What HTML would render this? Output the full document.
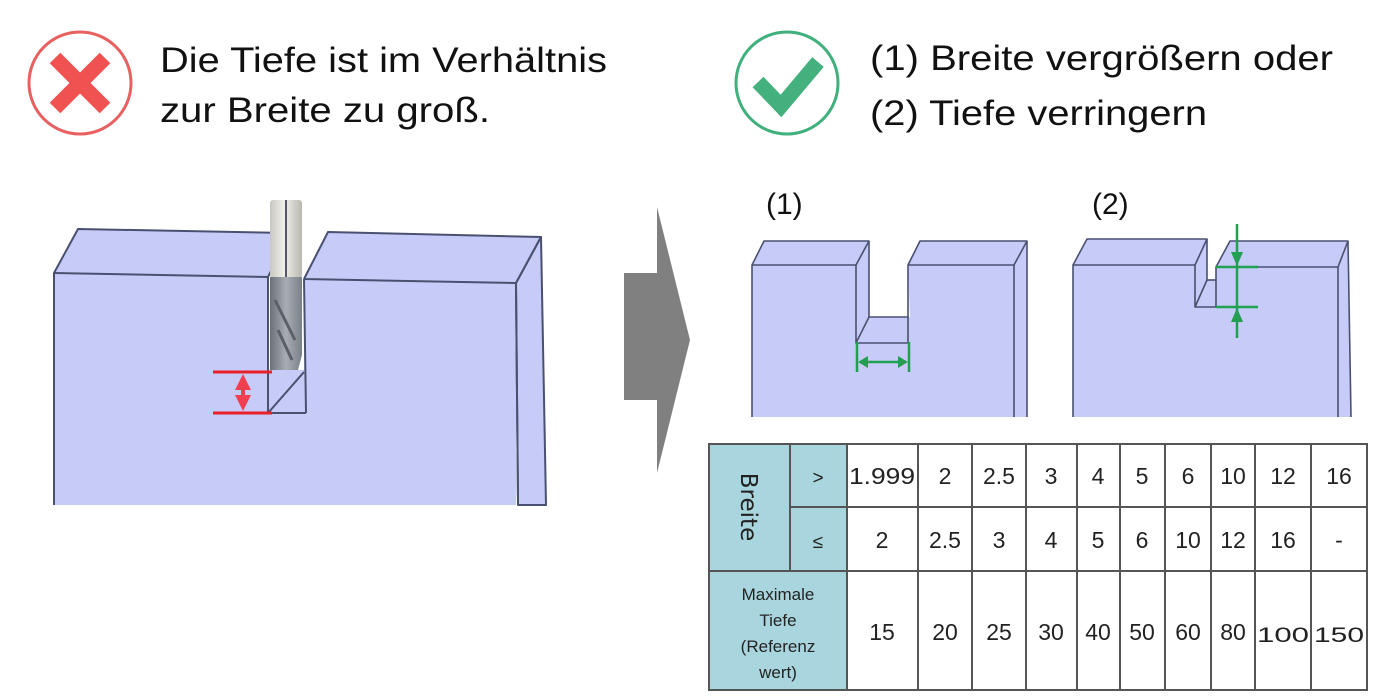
<!DOCTYPE html>
<html><head><meta charset="utf-8"><style>
html,body{margin:0;padding:0;background:#fff;width:1400px;height:700px;overflow:hidden}
svg{display:block}
text{font-family:"Liberation Sans",sans-serif}
.tb{font-family:"DejaVu Sans","Liberation Sans",sans-serif;font-size:23px;fill:#222}
</style></head><body>
<svg width="1400" height="700" viewBox="0 0 1400 700" xmlns="http://www.w3.org/2000/svg">
<defs>
<linearGradient id="sh" x1="0" x2="1"><stop offset="0" stop-color="#c8c8c0"/><stop offset="0.45" stop-color="#f0f0ea"/><stop offset="1" stop-color="#b8b8b0"/></linearGradient>
<linearGradient id="fl" x1="0" x2="1"><stop offset="0" stop-color="#6a7078"/><stop offset="0.5" stop-color="#a8adb3"/><stop offset="1" stop-color="#7a8088"/></linearGradient>
</defs>
<!-- header icons -->
<circle cx="80" cy="83" r="51" fill="none" stroke="#e86060" stroke-width="3"/>
<path d="M55 58 L105 108 M105 58 L55 108" stroke="#f05252" stroke-width="15" stroke-linecap="butt"/>
<text x="160" y="72" font-size="35" fill="#111" textLength="447" lengthAdjust="spacingAndGlyphs">Die Tiefe ist im Verhältnis</text>
<text x="160" y="122" font-size="35" fill="#111" textLength="330" lengthAdjust="spacingAndGlyphs">zur Breite zu groß.</text>
<circle cx="787" cy="83" r="51" fill="none" stroke="#40b07c" stroke-width="3"/>
<path d="M758 82 L781 106 L818 62" fill="none" stroke="#44b07e" stroke-width="15"/>
<text x="870" y="70" font-size="35" fill="#111" textLength="463" lengthAdjust="spacingAndGlyphs">(1) Breite vergrößern oder</text>
<text x="870" y="125" font-size="35" fill="#111" textLength="337" lengthAdjust="spacingAndGlyphs">(2) Tiefe verringern</text>

<!-- left diagram -->
<g stroke="#4a5070" stroke-width="2" fill="#c7cbf7" stroke-linejoin="round">
<polygon points="54,273 78,229 290,233 268,277 268,370 304,370 304,279 328,232 541,237 516,283 516,505 54,505" stroke="none"/>
<polygon points="516,283 541,237 546,505 518,505"/>
<polyline points="54,505 54,273 78,229 290,233 268,277" fill="none"/>
<line x1="54" y1="273" x2="268" y2="277"/>
<line x1="268" y1="277" x2="268" y2="413"/>
<polyline points="304,279 328,232 541,237 516,283 304,279" fill="none"/>
<line x1="304" y1="279" x2="306" y2="413"/>
<line x1="516" y1="283" x2="518" y2="505"/>
<line x1="268" y1="413" x2="306" y2="413"/>
<line x1="268" y1="413" x2="304" y2="372"/>
</g>
<rect x="270" y="200" width="32" height="78" rx="3" fill="url(#sh)"/>
<line x1="286" y1="200" x2="286" y2="280" stroke="#556" stroke-width="2"/>
<path d="M270 277 L302 277 L302 355 L298 370 L270 370 Z" fill="url(#fl)"/>
<path d="M275 300 L295 340 M278 330 L292 360" stroke="#5a6068" stroke-width="3"/>
<line x1="213" y1="372" x2="272" y2="372" stroke="#e8202a" stroke-width="3"/>
<line x1="213" y1="413" x2="272" y2="413" stroke="#e8202a" stroke-width="3"/>
<line x1="243" y1="382" x2="243" y2="403" stroke="#f04050" stroke-width="4"/>
<polygon points="243,374 235,390 251,390" fill="#f04050"/>
<polygon points="243,411 235,395 251,395" fill="#f04050"/>

<!-- big arrow -->
<polygon points="624,273 657,273 657,207 690,340 657,473 657,400 624,400" fill="#808080"/>

<!-- (1) -->
<text x="766" y="214" font-size="30" fill="#111">(1)</text>
<g stroke="#4a5070" stroke-width="1.6" fill="#c7cbf7" stroke-linejoin="round">
<polygon points="752,265 764,241 869,241 869,317 910,317 908,265 920,241 1027,241 1027,417 752,417" stroke="none"/>
<polyline points="752,417 752,265 764,241 869,241 856,265 752,265" fill="none"/>
<polyline points="856,265 856,343 869,317 869,241" fill="none"/>
<line x1="869" y1="317" x2="908" y2="317"/>
<line x1="856" y1="343" x2="908" y2="343"/>
<polyline points="908,343 908,265 920,241 1027,241 1014,265 908,265" fill="none"/>
<line x1="1014" y1="265" x2="1014" y2="417"/>
<line x1="1027" y1="241" x2="1027" y2="417"/>
</g>
<g stroke="#20a050" stroke-width="2.5" fill="#20a050">
<line x1="857" y1="342" x2="857" y2="372"/>
<line x1="909" y1="342" x2="909" y2="372"/>
<line x1="864" y1="362" x2="902" y2="362"/>
<polygon points="858,362 868,356 868,368" stroke="none"/>
<polygon points="908,362 898,356 898,368" stroke="none"/>
</g>

<!-- (2) -->
<text x="1092" y="214" font-size="30" fill="#111">(2)</text>
<g stroke="#4a5070" stroke-width="1.6" fill="#c7cbf7" stroke-linejoin="round">
<polygon points="1073,265 1087,239 1207,239 1207,280 1216,280 1216,267 1230,241 1348,241 1351,417 1073,417" stroke="none"/>
<polyline points="1073,417 1073,265 1087,239 1207,239 1195,265 1073,265" fill="none"/>
<polyline points="1195,265 1195,307 1207,280 1207,239" fill="none"/>
<line x1="1207" y1="280" x2="1216" y2="280"/>
<line x1="1195" y1="307" x2="1216" y2="307"/>
<polyline points="1216,307 1216,267 1230,241 1348,241 1338,267 1216,267" fill="none"/>
<line x1="1338" y1="267" x2="1338" y2="417"/>
<line x1="1348" y1="241" x2="1351" y2="417"/>
</g>
<g stroke="#20a050" stroke-width="2.5" fill="#20a050">
<line x1="1237" y1="224" x2="1237" y2="338"/>
<line x1="1216" y1="267" x2="1258" y2="267"/>
<line x1="1216" y1="307" x2="1258" y2="307"/>
<polygon points="1237,266 1231,252 1243,252" stroke="none"/>
<polygon points="1237,308 1231,322 1243,322" stroke="none"/>
</g>

<!-- table -->
<g stroke="#555" stroke-width="2">
<rect x="709" y="444" width="138" height="246" fill="#a9d6de"/>
<rect x="847" y="444" width="520" height="246" fill="#fff"/>
<line x1="790" y1="444" x2="790" y2="571"/>
<line x1="790" y1="507" x2="1367" y2="507"/>
<line x1="709" y1="571" x2="1367" y2="571"/>
<line x1="918" y1="444" x2="918" y2="690"/>
<line x1="972" y1="444" x2="972" y2="690"/>
<line x1="1026" y1="444" x2="1026" y2="690"/>
<line x1="1077" y1="444" x2="1077" y2="690"/>
<line x1="1120" y1="444" x2="1120" y2="690"/>
<line x1="1165" y1="444" x2="1165" y2="690"/>
<line x1="1211" y1="444" x2="1211" y2="690"/>
<line x1="1255" y1="444" x2="1255" y2="690"/>
<line x1="1311" y1="444" x2="1311" y2="690"/>
</g>
<text class="tb" transform="translate(741,507) rotate(90)" text-anchor="middle" style="font-size:23px">Breite</text>
<g class="tb" text-anchor="middle">
<text x="818" y="484" style="font-size:19px">&gt;</text>
<text x="818" y="548" style="font-size:19px">≤</text>
<text x="882" y="484" textLength="66" lengthAdjust="spacingAndGlyphs">1.999</text>
<text x="945" y="484">2</text><text x="999" y="484">2.5</text><text x="1051" y="484">3</text>
<text x="1098" y="484">4</text><text x="1142" y="484">5</text><text x="1188" y="484">6</text>
<text x="1233" y="484">10</text><text x="1283" y="484">12</text><text x="1339" y="484">16</text>
<text x="882" y="548">2</text><text x="945" y="548">2.5</text><text x="999" y="548">3</text>
<text x="1051" y="548">4</text><text x="1098" y="548">5</text><text x="1142" y="548">6</text>
<text x="1188" y="548">10</text><text x="1233" y="548">12</text><text x="1283" y="548">16</text><text x="1339" y="548">-</text>
<text x="882" y="640">15</text><text x="945" y="640">20</text><text x="999" y="640">25</text>
<text x="1051" y="640">30</text><text x="1098" y="640">40</text><text x="1142" y="640">50</text>
<text x="1188" y="640">60</text><text x="1233" y="640">80</text>
<text x="1283" y="642" textLength="52" lengthAdjust="spacingAndGlyphs" style="font-size:21px">100</text>
<text x="1339" y="642" textLength="50" lengthAdjust="spacingAndGlyphs" style="font-size:21px">150</text>
</g>
<g class="tb" text-anchor="middle">
<text x="778" y="600" style="font-size:17px">Maximale</text>
<text x="778" y="626" style="font-size:17px">Tiefe</text>
<text x="778" y="652" style="font-size:17px">(Referenz</text>
<text x="778" y="678" style="font-size:17px">wert)</text>
</g>
</svg>
</body></html>
